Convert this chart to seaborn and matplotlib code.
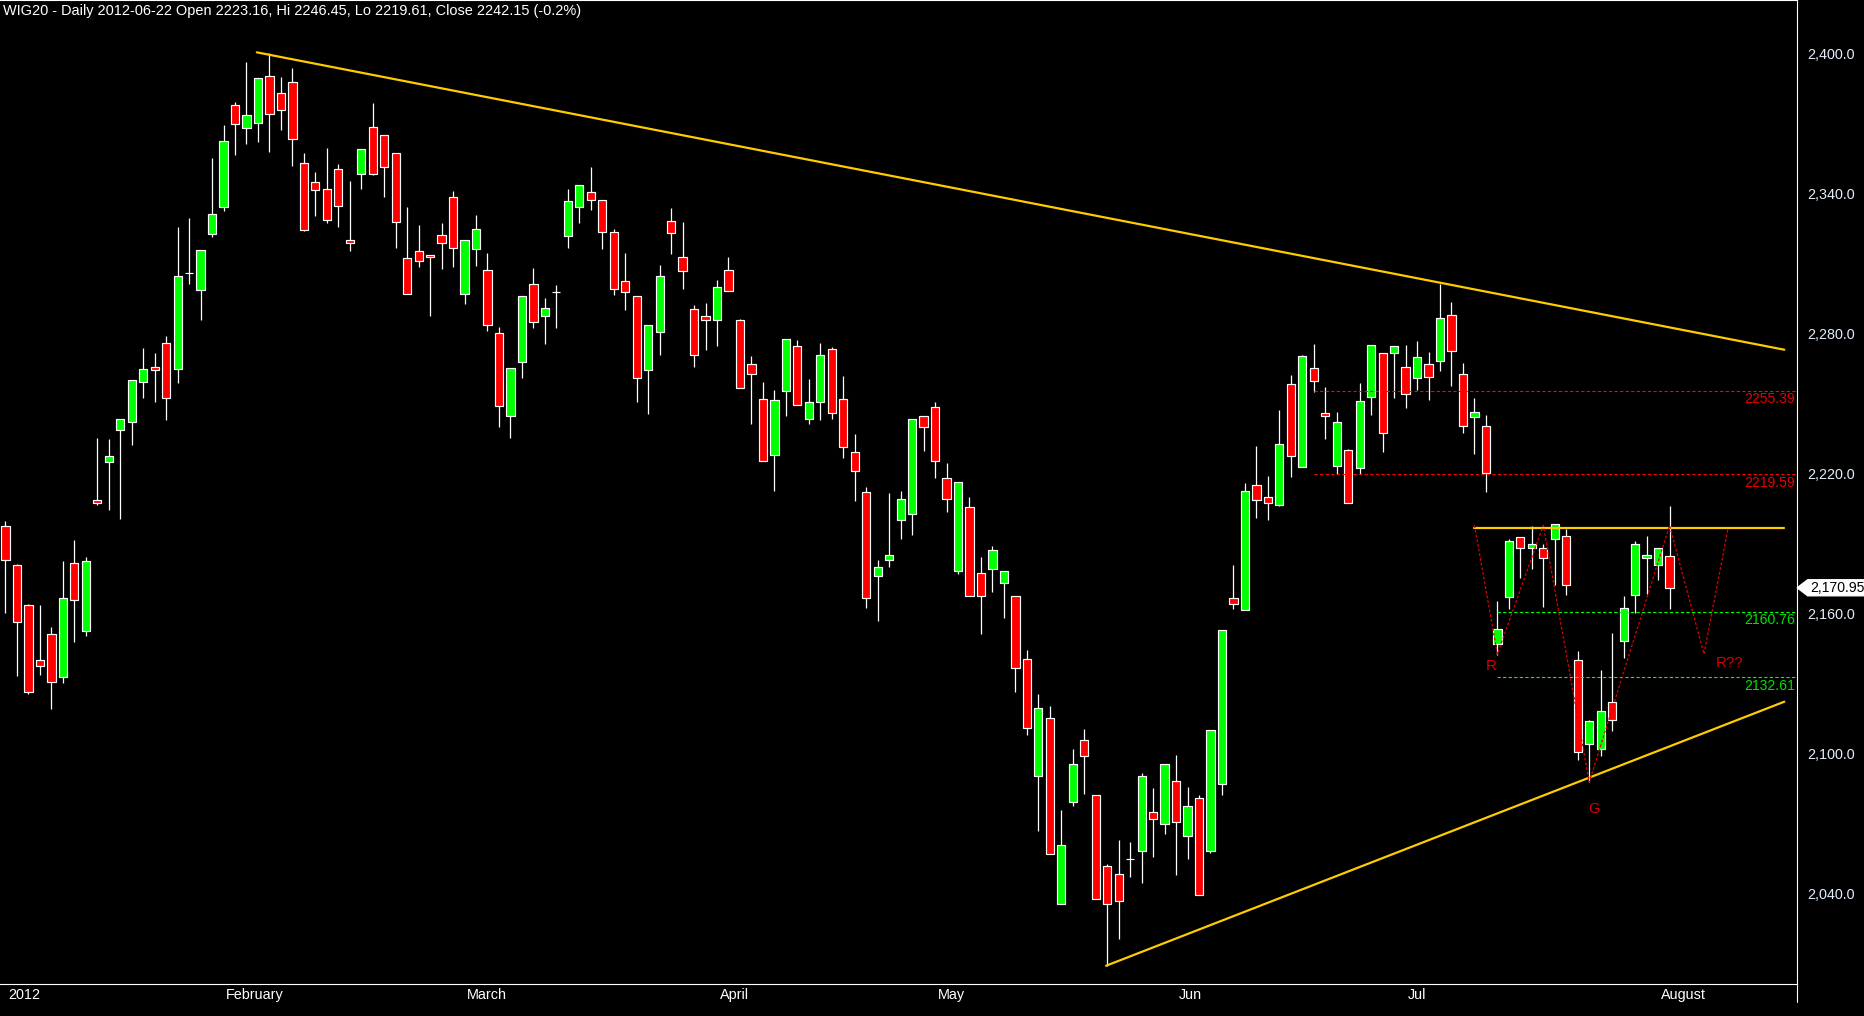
import numpy as np
import pandas as pd
import matplotlib
matplotlib.use("Agg")
import matplotlib.pyplot as plt
import seaborn as sns
from matplotlib import font_manager
from matplotlib.patches import Polygon
from matplotlib.transforms import ScaledTranslation, IdentityTransform

# ---------------- data ----------------
opens = [2197.4, 2180.6, 2163.4, 2139.8, 2151.3, 2132.8, 2181.4, 2152.5, 2208.4, 2225.0,
         2238.8, 2242.1, 2259.3, 2265.4, 2275.7, 2264.9, 2306.0, 2298.5, 2322.8, 2334.0,
         2377.8, 2367.9, 2370.1, 2390.2, 2382.9, 2387.7, 2352.9, 2344.8, 2341.8, 2350.4,
         2319.9, 2348.2, 2368.4, 2364.9, 2357.2, 2312.2, 2315.2, 2313.5, 2322.1, 2338.3,
         2296.8, 2316.0, 2307.0, 2280.0, 2244.7, 2267.6, 2301.0, 2287.3, 2297.7, 2321.9,
         2334.3, 2340.5, 2337.0, 2323.3, 2302.3, 2295.9, 2264.4, 2280.7, 2328.4, 2312.6,
         2290.3, 2287.3, 2285.6, 2307.0, 2285.6, 2266.7, 2251.7, 2227.7, 2255.1, 2274.8,
         2243.5, 2250.7, 2273.1, 2251.7, 2229.0, 2211.8, 2176.2, 2182.7, 2199.8, 2202.4,
         2244.4, 2248.3, 2218.2, 2178.3, 2205.5, 2177.1, 2178.8, 2172.9, 2167.3, 2140.3,
         2090.1, 2114.9, 2035.3, 2079.2, 2105.6, 2081.9, 2051.5, 2048.1, 2054.8, 2057.9,
         2075.0, 2069.6, 2088.0, 2064.7, 2080.6, 2058.0, 2087.0, 2166.6, 2161.5, 2215.1,
         2209.7, 2206.6, 2258.1, 2222.9, 2265.0, 2245.7, 2223.16, 2229.8, 2222.5, 2252.9,
         2271.8, 2271.4, 2265.8, 2260.7, 2266.8, 2268.1, 2287.8, 2262.8, 2244.0, 2240.1,
         2146.8, 2167.2, 2192.6, 2187.8, 2187.9, 2191.7, 2193.0, 2140.1, 2103.9, 2102.0,
         2121.8, 2148.2, 2167.8, 2183.6, 2180.5, 2184.4]
highs = [2199.6, 2181.0, 2164.0, 2163.4, 2154.3, 2182.5, 2191.4, 2184.0, 2235.0, 2234.6,
         2243.5, 2260.2, 2273.6, 2271.5, 2278.9, 2325.6, 2329.5, 2315.6, 2355.2, 2369.4,
         2379.0, 2396.4, 2389.4, 2400.1, 2389.9, 2393.8, 2357.2, 2349.2, 2359.5, 2352.6,
         2345.3, 2358.9, 2378.8, 2364.9, 2357.2, 2334.2, 2326.5, 2313.6, 2327.3, 2341.1,
         2320.0, 2330.7, 2314.4, 2282.6, 2265.0, 2295.9, 2308.0, 2295.1, 2300.7, 2341.9,
         2343.5, 2351.3, 2337.0, 2324.6, 2314.4, 2295.9, 2283.4, 2309.2, 2333.6, 2327.6,
         2292.0, 2292.9, 2302.7, 2312.7, 2286.2, 2270.3, 2259.1, 2255.7, 2277.8, 2277.1,
         2260.4, 2275.8, 2274.1, 2261.7, 2236.8, 2214.1, 2182.8, 2211.5, 2212.4, 2243.5,
         2244.4, 2250.4, 2224.5, 2216.5, 2209.8, 2184.1, 2188.8, 2178.0, 2167.3, 2144.2,
         2125.4, 2120.2, 2075.6, 2101.8, 2110.4, 2081.9, 2052.4, 2062.9, 2061.9, 2091.5,
         2085.1, 2095.6, 2099.2, 2085.5, 2082.2, 2110.1, 2153.0, 2180.5, 2215.8, 2231.7,
         2218.8, 2247.1, 2262.1, 2270.8, 2275.4, 2257.0, 2246.45, 2230.4, 2258.6, 2275.2,
         2271.8, 2274.4, 2274.9, 2276.8, 2272.0, 2301.1, 2293.3, 2267.2, 2252.1, 2244.9,
         2165.3, 2191.7, 2192.6, 2197.5, 2189.5, 2198.2, 2196.3, 2143.7, 2114.1, 2135.6,
         2151.4, 2167.5, 2190.8, 2193.1, 2187.9, 2206.0]
lows = [2160.3, 2133.1, 2125.5, 2133.7, 2119.1, 2130.3, 2147.5, 2150.4, 2206.6, 2204.5,
        2200.5, 2232.3, 2252.5, 2250.7, 2242.7, 2258.9, 2301.3, 2285.9, 2321.4, 2332.6,
        2356.6, 2361.4, 2362.2, 2357.9, 2367.4, 2351.9, 2324.0, 2330.5, 2327.5, 2325.8,
        2315.5, 2342.1, 2348.0, 2338.6, 2316.8, 2296.7, 2308.6, 2287.6, 2307.8, 2308.6,
        2292.8, 2309.0, 2281.1, 2240.0, 2235.3, 2261.0, 2282.4, 2275.6, 2282.4, 2316.7,
        2327.4, 2333.0, 2316.3, 2296.6, 2290.1, 2250.7, 2245.6, 2270.9, 2314.2, 2299.2,
        2265.7, 2273.0, 2274.7, 2298.0, 2256.4, 2241.3, 2225.5, 2212.5, 2244.7, 2249.1,
        2241.3, 2243.0, 2243.4, 2226.7, 2208.2, 2162.4, 2156.8, 2180.0, 2192.0, 2193.7,
        2229.7, 2218.1, 2203.4, 2176.9, 2167.6, 2151.2, 2169.3, 2158.1, 2126.4, 2107.9,
        2066.8, 2056.6, 2035.3, 2077.3, 2082.7, 2037.3, 2009.0, 2020.2, 2047.1, 2044.2,
        2055.7, 2065.5, 2047.9, 2054.7, 2039.1, 2057.3, 2082.2, 2161.8, 2161.5, 2201.0,
        2200.1, 2206.0, 2218.6, 2222.9, 2255.0, 2234.7, 2219.61, 2207.4, 2219.9, 2245.2,
        2229.3, 2252.4, 2248.1, 2255.9, 2251.5, 2263.7, 2257.6, 2237.5, 2228.5, 2212.1,
        2142.0, 2162.0, 2175.3, 2179.1, 2162.8, 2172.1, 2167.9, 2097.2, 2087.6, 2098.9,
        2109.7, 2141.0, 2160.1, 2168.3, 2174.4, 2162.0]
closes = [2183.0, 2156.4, 2126.1, 2137.2, 2130.5, 2166.4, 2165.5, 2182.3, 2207.1, 2227.3,
          2243.5, 2260.2, 2264.9, 2264.2, 2252.1, 2304.8, 2306.0, 2315.6, 2331.4, 2362.7,
          2369.9, 2373.5, 2389.4, 2373.9, 2375.6, 2363.2, 2324.2, 2341.3, 2328.5, 2334.5,
          2318.6, 2358.9, 2348.2, 2351.2, 2327.6, 2296.8, 2310.9, 2312.6, 2318.6, 2316.5,
          2319.9, 2324.6, 2283.4, 2248.7, 2265.0, 2295.9, 2285.0, 2291.1, 2297.7, 2336.6,
          2343.5, 2337.0, 2323.3, 2298.9, 2297.6, 2261.0, 2283.4, 2304.4, 2322.9, 2306.6,
          2270.6, 2285.6, 2300.1, 2298.0, 2256.4, 2262.4, 2225.5, 2251.3, 2277.8, 2249.1,
          2250.4, 2270.6, 2245.7, 2231.5, 2221.2, 2166.4, 2179.7, 2185.2, 2208.8, 2243.5,
          2239.7, 2225.1, 2209.2, 2216.5, 2167.6, 2167.6, 2187.1, 2178.0, 2136.4, 2110.7,
          2119.3, 2056.6, 2060.5, 2095.6, 2099.0, 2037.3, 2035.3, 2036.5, 2054.8, 2090.1,
          2071.6, 2095.6, 2070.7, 2077.2, 2039.1, 2110.1, 2153.0, 2163.8, 2212.5, 2208.4,
          2207.1, 2232.4, 2227.6, 2270.1, 2259.8, 2244.8, 2242.15, 2207.4, 2251.2, 2275.2,
          2237.5, 2274.4, 2253.9, 2269.8, 2261.5, 2286.5, 2272.3, 2240.4, 2246.2, 2220.2,
          2153.1, 2190.8, 2188.2, 2189.9, 2183.9, 2198.2, 2172.0, 2100.4, 2113.7, 2117.9,
          2114.1, 2162.1, 2189.9, 2184.9, 2187.9, 2170.95]

month_pos = [0, 19, 40, 62, 81, 102, 122, 144]
month_labels = ["2012", "February", "March", "April", "May", "Jun", "Jul", "August"]
y_ticks = [2040, 2100, 2160, 2220, 2280, 2340, 2400]

resistance_levels = [2255.39, 2219.59]
resistance_start = 114
support_levels = [2160.76, 2132.61]
support_start = 130

upper_trend_x = [21.9, 155.0]
upper_trend_y = [2400.5, 2273.0]
lower_trend_x = [95.9, 155.0]
lower_trend_y = [2008.9, 2122.1]
neck_x = [128.0, 155.0]
neck_y = [2196.7, 2196.7]

pattern_x = [128.0, 130.0, 134.0, 138.0, 145.0, 148.0, 150.1]
pattern_y = [2197.7, 2142.5, 2197.7, 2087.6, 2197.7, 2142.5, 2196.5]

pattern_labels = ["R", "G", "R??"]
pattern_label_x = [129.5, 138.4, 150.2]
pattern_label_y = [2137.6, 2076.2, 2138.8]

header = "WIG20 - Daily 2012-06-22 Open 2223.16, Hi 2246.45, Lo 2219.61, Close 2242.15 (-0.2%)"
last_close = closes[-1]
last_close_label = "2,170.95"

# ---------------- style ----------------
sns.set_style("dark", {"axes.facecolor": "black", "figure.facecolor": "black"})


def has_font(name):
    try:
        font_manager.findfont(font_manager.FontProperties(family=name), fallback_to_default=False)
        return True
    except Exception:
        return False


if has_font("Liberation Sans Narrow"):
    FONT, K = "Liberation Sans Narrow", 1.0
else:
    FONT, K = "Liberation Sans", 0.82
plt.rcParams["font.family"] = [FONT, "DejaVu Sans"]

W, H = 1865, 1016
fig = plt.figure(figsize=(W / 100, H / 100), dpi=100, facecolor="black")
ax = fig.add_axes([0, 32 / H, 1796.7 / W, 984 / H])
ax.set_facecolor("black")

df = pd.DataFrame({"open": opens, "high": highs, "low": lows, "close": closes})
df["idx"] = np.arange(len(df))
df["bottom"] = df[["open", "close"]].min(axis=1)
df["height"] = (df["close"] - df["open"]).abs()
df["color"] = np.where(df["close"] >= df["open"], "#00FF00", "#FF0000")

XMIN, XMAX = -0.479, 156.08
ax.set_xlim(XMIN, XMAX)
ax.set_ylim(2001.07, 2422.94)

# wicks and bodies
ax.vlines(df["idx"], df["low"], df["high"], color="white", lw=0.9, zorder=2)
ax.bar(df["idx"], df["height"], bottom=df["bottom"], width=0.72,
       color=df["color"], edgecolor="white", linewidth=0.85, zorder=3)

# trend lines (seaborn)
trend_df = pd.DataFrame({
    "x": upper_trend_x + lower_trend_x + neck_x,
    "y": upper_trend_y + lower_trend_y + neck_y,
    "line": ["upper"] * 2 + ["lower"] * 2 + ["neck"] * 2,
})
sns.lineplot(data=trend_df, x="x", y="y", units="line", estimator=None, sort=False,
             color="#FFCC00", lw=1.6, ax=ax, legend=False, zorder=5)

pat_df = pd.DataFrame({"x": pattern_x, "y": pattern_y})
sns.lineplot(data=pat_df, x="x", y="y", sort=False, estimator=None, color="#E00000",
             lw=0.9, dashes=False, ax=ax, legend=False, zorder=5)
ax.lines[-1].set_dashes((2.2, 1.6))

# level lines
ax.hlines(resistance_levels, resistance_start, XMAX, colors="#FF0000", lw=0.8,
          linestyles=(0, (3, 2)), zorder=4)
ax.hlines(support_levels, support_start, XMAX, colors="#00FF00", lw=0.8,
          linestyles=(0, (3, 2)), zorder=4)
for lvl in resistance_levels:
    ax.annotate(f"{lvl:.2f}", xy=(1, lvl), xycoords=("axes fraction", "data"),
                xytext=(-1, -1.2), textcoords="offset points", ha="right", va="top",
                color="#E80000", fontsize=12.3 * K)
for lvl in support_levels:
    ax.annotate(f"{lvl:.2f}", xy=(1, lvl), xycoords=("axes fraction", "data"),
                xytext=(-1, -1.2), textcoords="offset points", ha="right", va="top",
                color="#00E000", fontsize=12.3 * K)

for t, x, y in zip(pattern_labels, pattern_label_x, pattern_label_y):
    ax.text(x, y, t, color="#D80000", fontsize=13.2 * K, ha="center", va="center", zorder=6)

# axes styling
ax.spines["left"].set_visible(False)
for s in ["bottom", "right", "top"]:
    ax.spines[s].set_visible(True)
    ax.spines[s].set_color("white")
    ax.spines[s].set_linewidth(0.8)
ax.plot([1, 1], [0, -18 / 984], transform=ax.transAxes, clip_on=False, color="white", lw=0.8)

ax.yaxis.tick_right()
ax.set_yticks(y_ticks)
ax.set_yticklabels([f"{v:,.1f}" for v in y_ticks])
ax.tick_params(axis="y", length=0, pad=7.3, labelcolor="#E4ECFA", labelsize=12.6 * K)

ax.set_xticks(month_pos)
ax.set_xticklabels(month_labels, ha="left")
ax.tick_params(axis="x", direction="out", length=10.8, width=0.75, color="white",
               pad=-7.9, labelcolor="white", labelsize=12.6 * K)
offset = ScaledTranslation(2.5 / 100, 0, fig.dpi_scale_trans)
for lab in ax.get_xticklabels():
    lab.set_transform(lab.get_transform() + offset)
ax.set_xlabel("")
ax.set_ylabel("")
ax.grid(False)

# header
fig.text(2.7 / W, 1 - 15 / H, header, color="white", fontsize=12.7 * K, ha="left", va="baseline")

# last price marker
xd, yd = ax.transData.transform((XMAX, last_close))
hh = 8
verts = [(xd + 0.5, yd), (xd + 11, yd + hh), (W + 5, yd + hh), (W + 5, yd - hh), (xd + 11, yd - hh)]
fig.add_artist(Polygon(verts, closed=True, facecolor="white", edgecolor="white",
                       transform=IdentityTransform(), zorder=10))
fig.text((xd + 13.5) / W, yd / H, last_close_label, color="black", fontsize=12.3 * K,
         ha="left", va="center", zorder=11)

fig.savefig("out.png", dpi=100, facecolor="black")
